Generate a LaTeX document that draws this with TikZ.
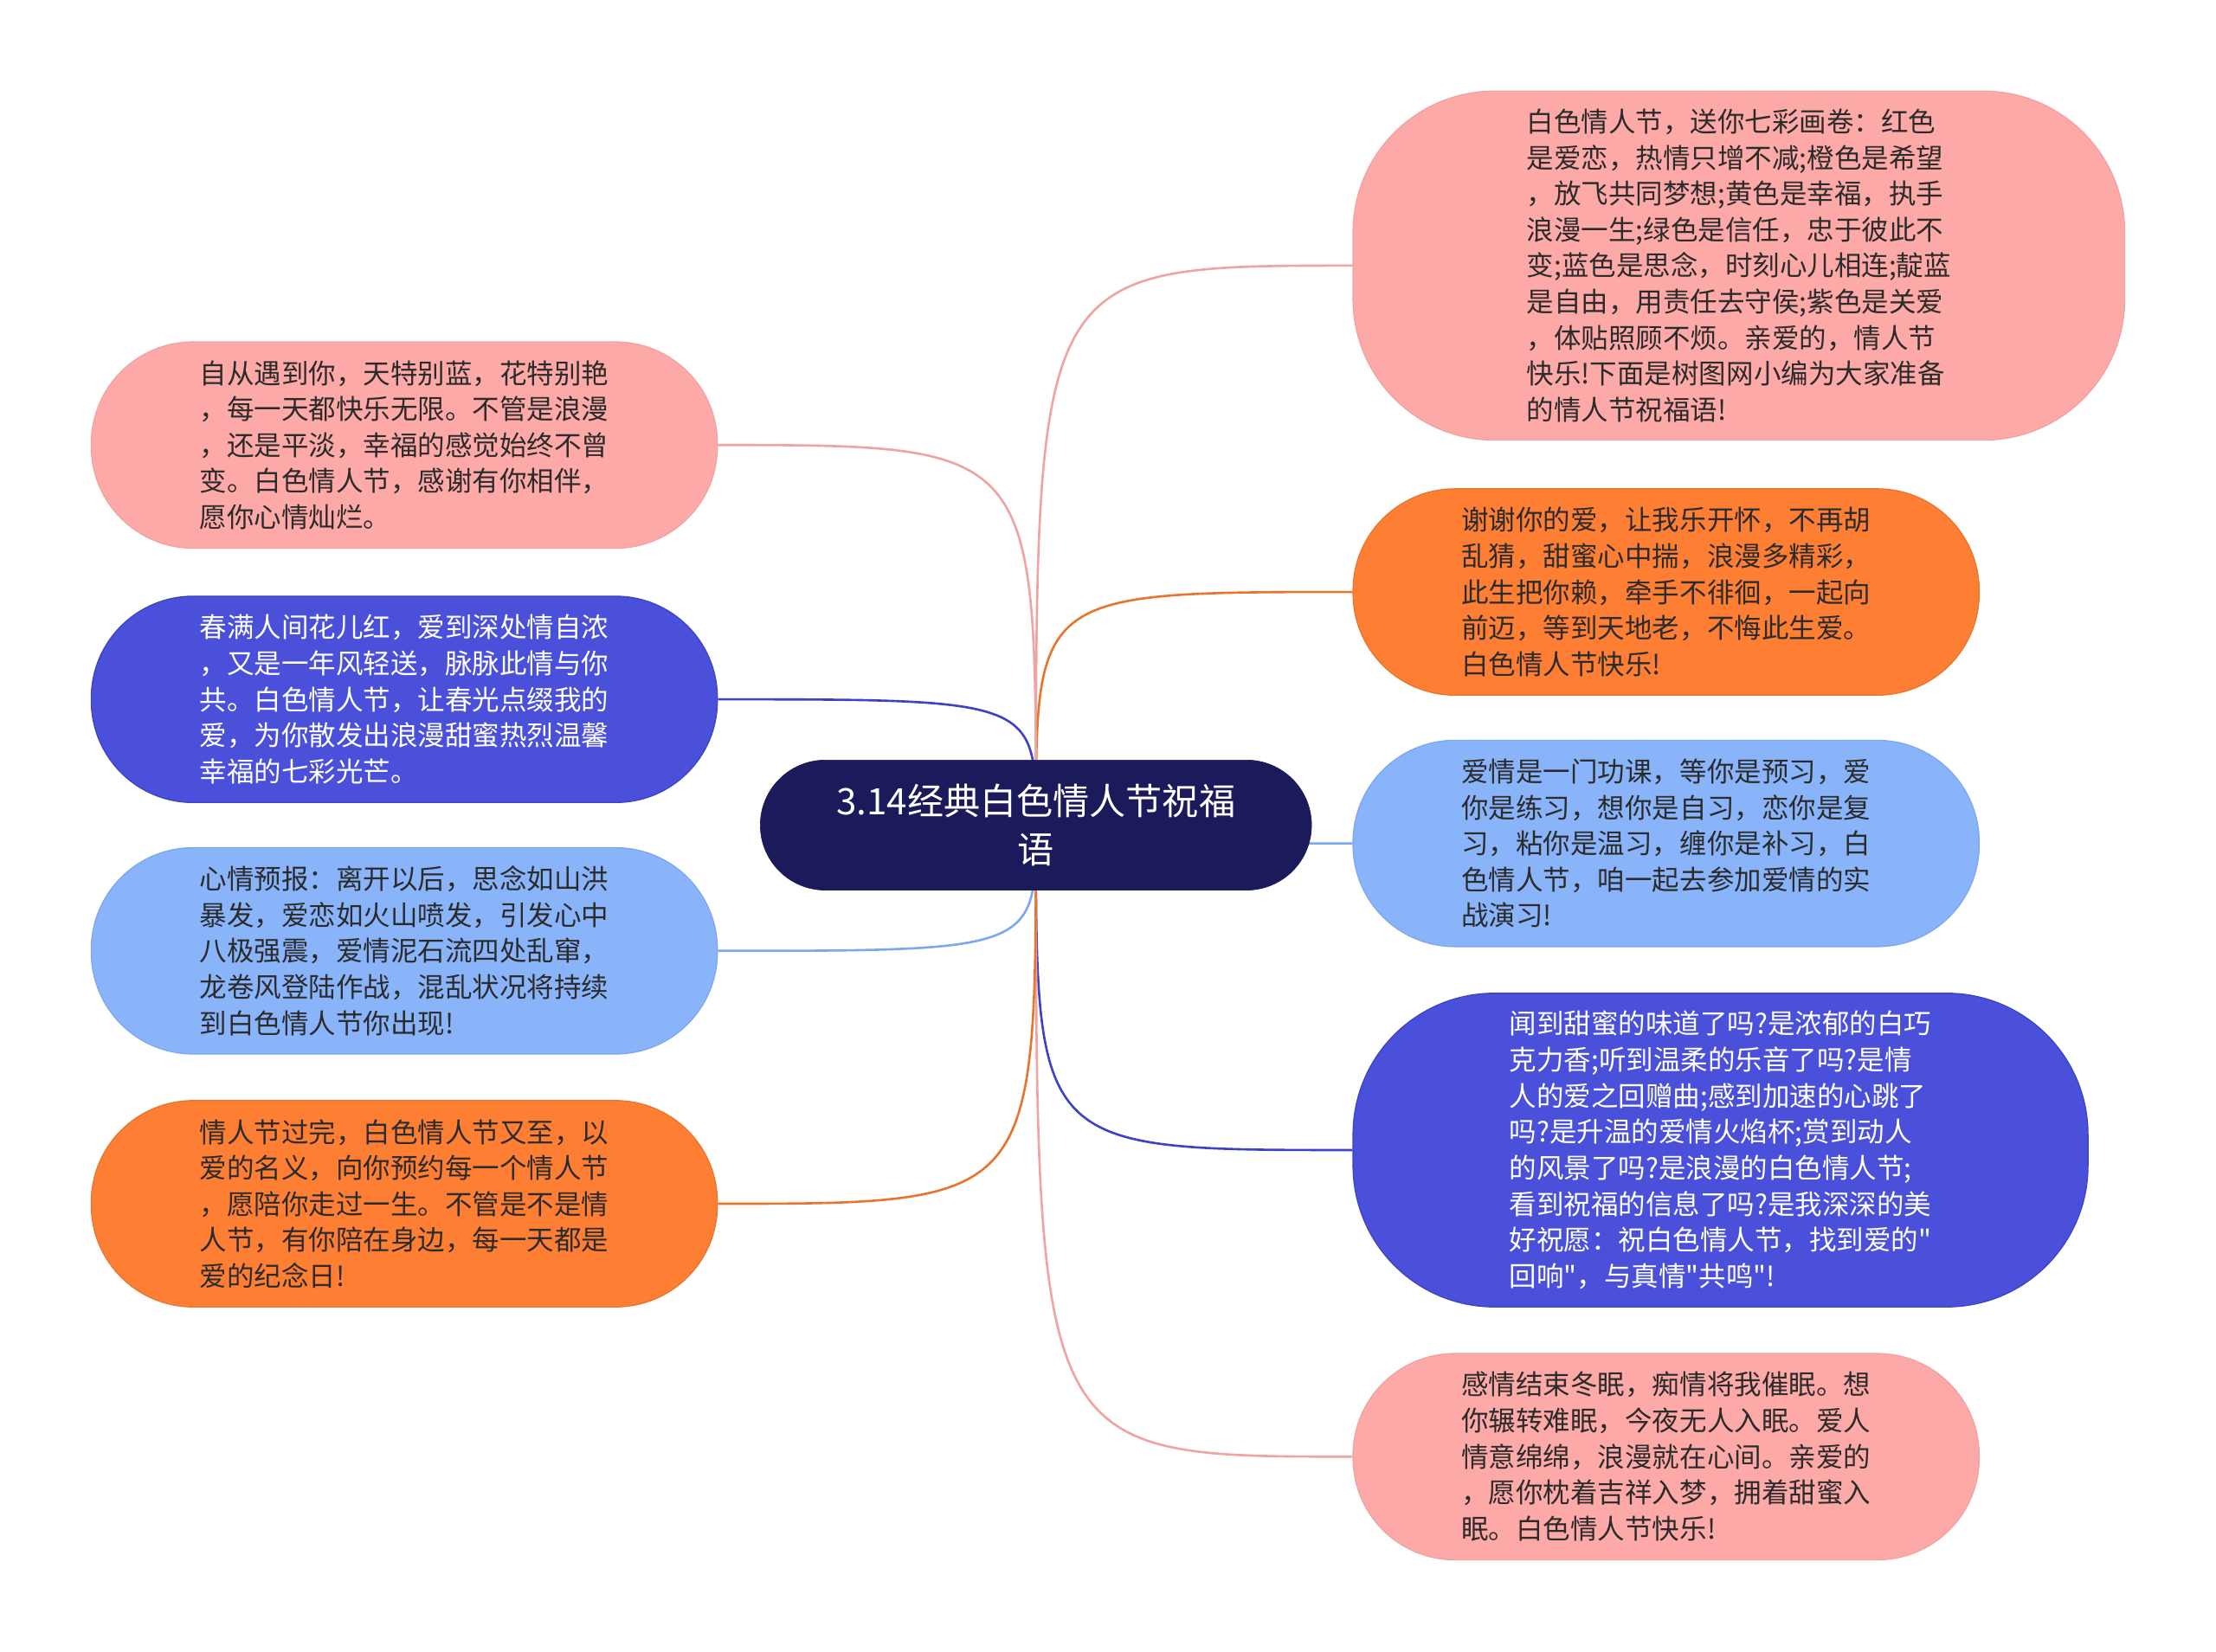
\documentclass[tikz,border=0pt]{standalone}
\usepackage{fontspec}
\setmainfont{Noto Sans CJK SC}[Ligatures=TeXOff]
\usepackage{tikz}
\usetikzlibrary{shapes,backgrounds,positioning,calc}

\definecolor{navy}{HTML}{1B1A5B}
\definecolor{pinkfill}{HTML}{FDA9A8}
\definecolor{pinkline}{HTML}{EFA3A3}
\definecolor{orangefill}{HTML}{FE7F33}
\definecolor{orangeline}{HTML}{E8752E}
\definecolor{skyfill}{HTML}{89B4FA}
\definecolor{skyline}{HTML}{7DA7F0}
\definecolor{bluefill}{HTML}{4A50D9}
\definecolor{blueline}{HTML}{3C43C6}
\definecolor{leaftext}{HTML}{2B2B2B}

\tikzset{
  root/.style={fill=navy,draw=navy,text=white,align=center,
    minimum width=390pt,minimum height=92pt,rounded corners=46pt,
    font=\fontsize{25.8}{34}\selectfont},
  leaf/.style={minimum width=443pt,minimum height=146pt,rounded corners=72pt,
    align=left,text=leaftext,line width=.8pt,
    font=\fontsize{19.3}{25.5}\selectfont},
  bigleaf/.style={leaf,rounded corners=100pt},
  pinkleaf/.style={fill=pinkfill,draw=pinkline},
  orangeleaf/.style={fill=orangefill,draw=orangeline},
  skyleaf/.style={fill=skyfill,draw=skyline},
  blueleaf/.style={fill=bluefill,draw=blueline,text=white},
  link/.style={line width=1.6pt},
}

\begin{document}
\begin{tikzpicture}[x=1pt,y=1pt]
      \node[root](root){3.14经典白色情人节祝福\\语};
      %
      \node[bigleaf,pinkleaf,minimum width=546pt,minimum height=247pt,anchor=west]
        at($(root.center)+(224,396)$)(r1){白色情人节，送你七彩画卷：红色\\
        是爱恋，热情只增不减;橙色是希望\\
        ，放飞共同梦想;黄色是幸福，执手\\
        浪漫一生;绿色是信任，忠于彼此不\\
        变;蓝色是思念，时刻心儿相连;靛蓝\\
        是自由，用责任去守侯;紫色是关爱\\
        ，体贴照顾不烦。亲爱的，情人节\\
        快乐!下面是树图网小编为大家准备\\
        的情人节祝福语!};
      \node[leaf,orangeleaf,anchor=west] at($(root.center)+(224,165)$)(r2){谢谢你的爱，让我乐开怀，不再胡\\
        乱猜，甜蜜心中揣，浪漫多精彩，\\
        此生把你赖，牵手不徘徊，一起向\\
        前迈，等到天地老，不悔此生爱。\\
        白色情人节快乐!};
      \node[leaf,skyleaf,anchor=west] at($(root.center)+(224,-13)$)(r3){爱情是一门功课，等你是预习，爱\\
        你是练习，想你是自习，恋你是复\\
        习，粘你是温习，缠你是补习，白\\
        色情人节，咱一起去参加爱情的实\\
        战演习!};
      \node[bigleaf,blueleaf,minimum width=520pt,minimum height=222pt,anchor=west]
        at($(root.center)+(224,-230)$)(r4){闻到甜蜜的味道了吗?是浓郁的白巧\\
        克力香;听到温柔的乐音了吗?是情\\
        人的爱之回赠曲;感到加速的心跳了\\
        吗?是升温的爱情火焰杯;赏到动人\\
        的风景了吗?是浪漫的白色情人节;\\
        看到祝福的信息了吗?是我深深的美\\
        好祝愿：祝白色情人节，找到爱的"\\
        回响"，与真情"共鸣"!};
      \node[leaf,pinkleaf,anchor=west] at($(root.center)+(224,-447)$)(r5){感情结束冬眠，痴情将我催眠。想\\
        你辗转难眠，今夜无人入眠。爱人\\
        情意绵绵，浪漫就在心间。亲爱的\\
        ，愿你枕着吉祥入梦，拥着甜蜜入\\
        眠。白色情人节快乐!};
      %
      \node[leaf,pinkleaf,anchor=east] at($(root.center)+(-225,269)$)(l1){自从遇到你，天特别蓝，花特别艳\\
        ，每一天都快乐无限。不管是浪漫\\
        ，还是平淡，幸福的感觉始终不曾\\
        变。白色情人节，感谢有你相伴，\\
        愿你心情灿烂。};
      \node[leaf,blueleaf,anchor=east] at($(root.center)+(-225,89)$)(l2){春满人间花儿红，爱到深处情自浓\\
        ，又是一年风轻送，脉脉此情与你\\
        共。白色情人节，让春光点缀我的\\
        爱，为你散发出浪漫甜蜜热烈温馨\\
        幸福的七彩光芒。};
      \node[leaf,skyleaf,anchor=east] at($(root.center)+(-225,-89)$)(l3){心情预报：离开以后，思念如山洪\\
        暴发，爱恋如火山喷发，引发心中\\
        八极强震，爱情泥石流四处乱窜，\\
        龙卷风登陆作战，混乱状况将持续\\
        到白色情人节你出现!};
      \node[leaf,orangeleaf,anchor=east] at($(root.center)+(-225,-268)$)(l4){情人节过完，白色情人节又至，以\\
        爱的名义，向你预约每一个情人节\\
        ，愿陪你走过一生。不管是不是情\\
        人节，有你陪在身边，每一天都是\\
        爱的纪念日!};
      %
      \begin{scope}[on background layer]
      \fill[white] (-733,-585) rectangle (835,584);
      \draw[link,pinkline] (root.center) .. controls (root.center |- r1.west) .. (r1.west);
      \draw[link,orangeline] (root.center) .. controls (root.center |- r2.west) .. (r2.west);
      \draw[link,skyline] (root.center) .. controls (root.center |- r3.west) .. (r3.west);
      \draw[link,blueline] (root.center) .. controls (root.center |- r4.west) .. (r4.west);
      \draw[link,pinkline] (root.center) .. controls (root.center |- r5.west) .. (r5.west);
      \draw[link,pinkline] (root.center) .. controls (root.center |- l1.east) .. (l1.east);
      \draw[link,blueline] (root.center) .. controls (root.center |- l2.east) .. (l2.east);
      \draw[link,skyline] (root.center) .. controls (root.center |- l3.east) .. (l3.east);
      \draw[link,orangeline] (root.center) .. controls (root.center |- l4.east) .. (l4.east);
      \end{scope}
    \end{tikzpicture}
\end{document}
